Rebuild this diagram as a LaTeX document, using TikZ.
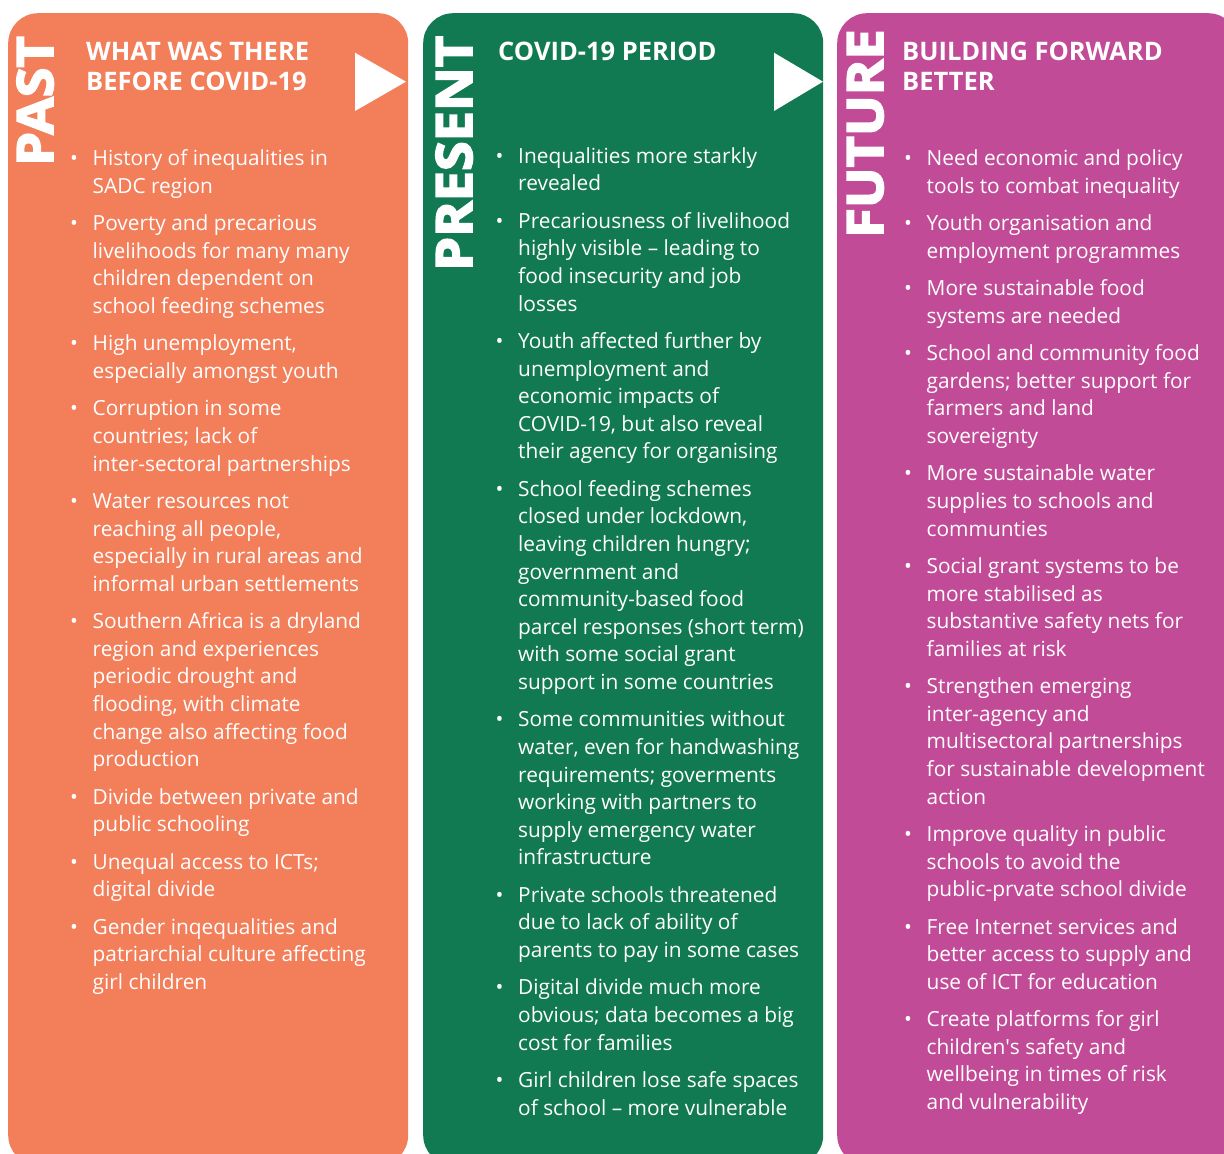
\documentclass[tikz,border=0pt]{standalone}
\usepackage{fontspec}
\setmainfont{Open Sans}
\newfontfamily\heavyfont[FakeBold=3.5,FakeStretch=1.08]{Open Sans}
\definecolor{pastc}{RGB}{242,126,90}
\definecolor{presc}{RGB}{17,122,82}
\definecolor{futc}{RGB}{194,75,152}
\newcommand\bitem{\par\noindent\llap{\textbullet\hspace{14.7pt}}}
\newcommand\bodybox[1]{\parbox[t]{400pt}{\fontsize{20.85}{27.6}\selectfont\raggedright\setlength\parskip{9.8pt}#1}}
\newcommand\headbox[1]{\parbox[t]{400pt}{\fontsize{25.5}{30}\selectfont\bfseries\raggedright #1}}
\begin{document}
\begin{tikzpicture}[x=1pt, y=1pt,
  panel/.style={rectangle, rounded corners=30pt, minimum width=400pt, minimum height=1152pt, anchor=north west, inner sep=0pt},
  vlabel/.style={text=white, font=\heavyfont\bfseries\fontsize{50}{50}\selectfont, rotate=90, anchor=base west, inner sep=0pt},
  txt/.style={text=white, inner sep=0pt, anchor=base west},
  tip/.style={fill=white}
]
\useasboundingbox (0,0) rectangle (1224,-1154);
\clip (0,0) rectangle (1224,-1154);
% panels
\node[panel, fill=pastc] (past) at (8,-13) {};
\node[panel, fill=presc] (pres) at (423,-13) {};
\node[panel, fill=futc, minimum width=401pt] (fut) at (837,-13) {};
% arrows
\fill[tip] (355,-52.7) -- (406,-81.7) -- (355,-111) -- cycle;
\fill[tip] (774,-52.7) -- (823,-81.7) -- (774,-111) -- cycle;
% vertical labels
\node[vlabel] (pastlbl) at (53,-166) {PAST};
\node[vlabel] (preslbl) at (472,-271) {PRESENT};
\node[vlabel] (futlbl) at (883,-238) {FUTURE};
% headings
\node[txt] (pasthead) at (86,-60) {\headbox{WHAT WAS THERE\\BEFORE COVID-19}};
\node[txt] (preshead) at (498,-60) {\headbox{COVID-19 PERIOD}};
\node[txt] (futhead) at (902,-60) {\headbox{BUILDING FORWARD\\BETTER}};
% lists
\node[txt] (pastlist) at (92.5,-165.7) {\bodybox{%
\bitem History of inequalities in\\SADC region
\bitem Poverty and precarious\\livelihoods for many many\\children dependent on\\school feeding schemes
\bitem High unemployment,\\especially amongst youth
\bitem Corruption in some\\countries; lack of\\inter-sectoral partnerships
\bitem Water resources not\\reaching all people,\\especially in rural areas and\\informal urban settlements
\bitem Southern Africa is a dryland\\region and experiences\\periodic drought and\\flooding, with climate\\change also affecting food\\production
\bitem Divide between private and\\public schooling
\bitem Unequal access to ICTs;\\digital divide
\bitem Gender inqequalities and\\patriarchial culture affecting\\girl children}};
\node[txt] (preslist) at (518,-163.3) {\bodybox{%
\bitem Inequalities more starkly\\revealed
\bitem Precariousness of livelihood\\highly visible – leading to\\food insecurity and job\\losses
\bitem Youth affected further by\\unemployment and\\economic impacts of\\COVID-19, but also reveal\\their agency for organising
\bitem School feeding schemes\\closed under lockdown,\\leaving children hungry;\\government and\\community-based food\\parcel responses (short term)\\with some social grant\\support in some countries
\bitem Some communities without\\water, even for handwashing\\requirements; goverments\\working with partners to\\supply emergency water\\infrastructure
\bitem Private schools threatened\\due to lack of ability of\\parents to pay in some cases
\bitem Digital divide much more\\obvious; data becomes a big\\cost for families
\bitem Girl children lose safe spaces\\of school – more vulnerable}};
\node[txt] (futlist) at (926.5,-165.7) {\bodybox{%
\bitem Need economic and policy\\tools to combat inequality
\bitem Youth organisation and\\employment programmes
\bitem More sustainable food\\systems are needed
\bitem School and community food\\gardens; better support for\\farmers and land\\sovereignty
\bitem More sustainable water\\supplies to schools and\\communties
\bitem Social grant systems to be\\more stabilised as\\substantive safety nets for\\families at risk
\bitem Strengthen emerging\\inter-agency and\\multisectoral partnerships\\for sustainable development\\action
\bitem Improve quality in public\\schools to avoid the\\public-prvate school divide
\bitem Free Internet services and\\better access to supply and\\use of ICT for education
\bitem Create platforms for girl\\children\textquotesingle s safety and\\wellbeing in times of risk\\and vulnerability}};
\end{tikzpicture}
\end{document}
